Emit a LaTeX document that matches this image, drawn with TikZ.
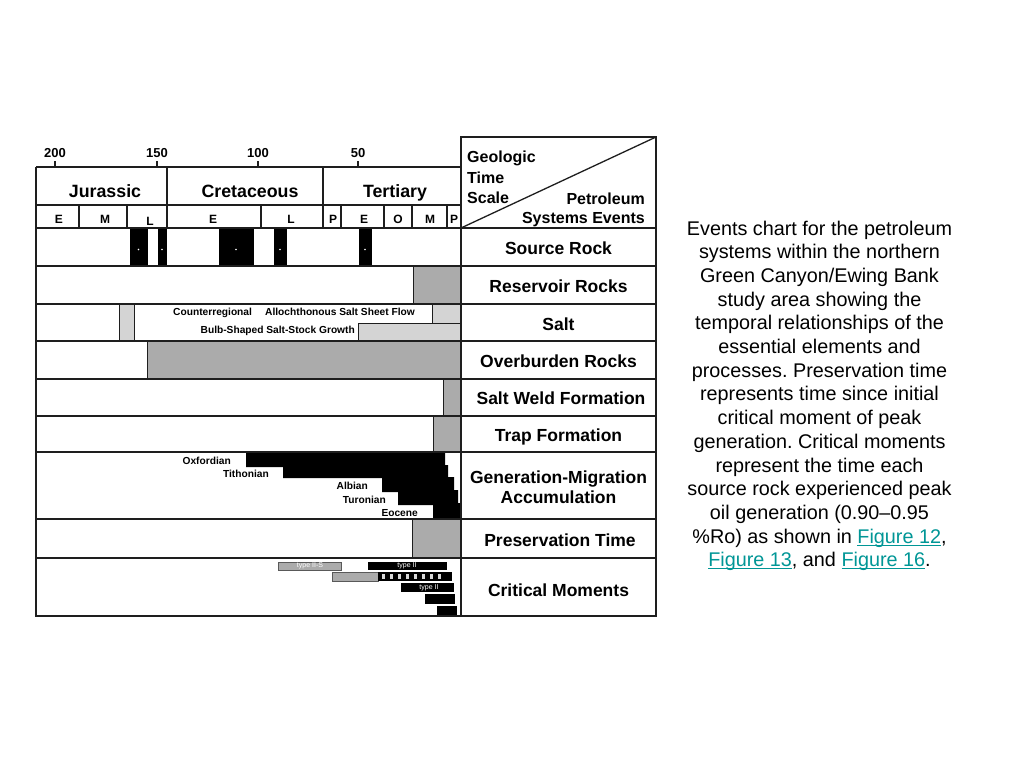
\documentclass[tikz,border=0pt]{standalone}
\usepackage{fontspec}
\setmainfont{Liberation Sans}
\definecolor{gfill}{HTML}{ABABAB}
\definecolor{lfill}{HTML}{D4D4D4}
\definecolor{linec}{HTML}{1E1E1E}
\definecolor{linkc}{RGB}{0,150,150}
\newcommand{\lnk}[1]{{\color{linkc}\setbox0\hbox{#1}\rlap{\rule[-2.6pt]{\wd0}{1pt}}\box0}}
\frenchspacing
\begin{document}
\begin{tikzpicture}[x=1pt,y=-1pt,
  grid/.style={draw=linec,line width=1.5pt},
  frame/.style={draw=linec,line width=2pt},
  dk/.style={fill=black,draw=black,line width=0.6pt},
  gbox/.style={fill=gfill,draw=linec,line width=1pt},
  lbox/.style={fill=lfill,draw=linec,line width=1pt},
  lbl/.style={font=\fontsize{17.5}{20}\selectfont\bfseries,inner sep=0,anchor=base},
  per/.style={font=\fontsize{17.8}{20}\selectfont\bfseries,inner sep=0,anchor=base},
  ep/.style={font=\fontsize{12}{14}\selectfont\bfseries,inner sep=0,anchor=base},
  hd/.style={font=\fontsize{16}{18}\selectfont\bfseries,inner sep=0},
  tk/.style={font=\fontsize{13}{15}\selectfont\bfseries,inner sep=0,anchor=base},
  sm/.style={font=\fontsize{10.2}{12}\selectfont\bfseries,inner sep=0},
  ty/.style={font=\fontsize{7}{8}\selectfont,text=white,inner sep=0},
  captxt/.style={font=\fontsize{19.8}{23.7}\selectfont,inner sep=0,anchor=base}
]
\useasboundingbox[fill=white] (0,0) rectangle (1024,768);

% ---------- fills ----------
% source rock
\foreach \a/\b in {130/147,158/166,219/253,274/286,359/371}{
  \fill[dk] (\a,229) rectangle (\b,265);
  \fill[white] ({(\a+\b)/2},249.5) circle (0.9);
}
% reservoir
\filldraw[gbox] (413,266) rectangle (461,304);
% salt
\filldraw[lbox] (119,304) rectangle (134,341);
\filldraw[lbox] (432,304) rectangle (461,323);
\filldraw[lbox] (358,323) rectangle (461,341);
% overburden
\filldraw[gbox] (147,341) rectangle (461,379);
% salt weld
\filldraw[gbox] (443,379) rectangle (461,416);
% trap
\filldraw[gbox] (433,416) rectangle (461,452);
% generation-migration
\fill[black] (246,452) -- (445,452) -- (445,465) -- (448,465) -- (448,477) -- (454,477) -- (454,490)
  -- (458,490) -- (458,503) -- (461,503) -- (461,519) -- (433,519) -- (433,505) -- (398,505)
  -- (398,492) -- (382,492) -- (382,478) -- (283,478) -- (283,467) -- (246,467) -- cycle;
% preservation
\filldraw[gbox] (412,519) rectangle (461,558);
% critical moments
\filldraw[fill=gfill,draw=gray!70!black,line width=0.8pt] (278,562) rectangle (341,570);
\node[ty] (t1) at (310,566) {type II-S};
\fill[black] (368,562) rectangle (447,570);
\node[ty] (t2) at (407,566) {type II};
\filldraw[fill=gfill,draw=gray!70!black,line width=0.8pt] (332,572) rectangle (378,581);
\fill[black] (378,572) rectangle (452,581);
\foreach \i in {0,...,7}{\fill[white!85!black] ({381.5+8.1*\i},574) rectangle ({384.5+8.1*\i},579);}
\fill[black] (401,583) rectangle (454,592);
\node[ty] (t3) at (429,587.5) {type II};
\fill[black] (425,594) rectangle (455,604);
\fill[black] (437,606) rectangle (457,615);

% ---------- grid ----------
\draw[grid] (36,205) -- (461,205);
\foreach \y in {228,266,304,341,379,416,452,519,558}{\draw[grid] (36,\y) -- (656,\y);}
\draw[grid] (167,167) -- (167,228);
\draw[grid] (323,167) -- (323,228);
\foreach \x in {79,127,261,341,384,412,447}{\draw[grid,line width=1.2pt] (\x,205) -- (\x,228);}
% ticks
\foreach \x in {55,157,258,358}{\draw[grid,line width=1.2pt] (\x,161) -- (\x,167);}
% frame
\draw[frame] (36,167) -- (461,167);
\draw[frame] (36,167) -- (36,616) -- (656,616) -- (656,137) -- (461,137) -- (461,616);
\draw[grid,line width=1.3pt] (461,228) -- (656,137);

% ---------- texts ----------
\node[tk] (n200) at (55,157) {200};
\node[tk] (n150) at (157,157) {150};
\node[tk] (n100) at (258,157) {100};
\node[tk] (n50) at (358,157) {50};
\node[per] (jur) at (105,197) {Jurassic};
\node[per] (cre) at (250,197) {Cretaceous};
\node[per] (ter) at (395,197) {Tertiary};
\node[ep] (e1) at (59,223) {E};
\node[ep] (e2) at (105,223) {M};
\node[ep] (e3) at (150,225) {L};
\node[ep] (e4) at (213,223) {E};
\node[ep] (e5) at (291,223) {L};
\node[ep] (e6) at (333,223) {P};
\node[ep] (e7) at (364,223) {E};
\node[ep] (e8) at (398,223) {O};
\node[ep] (e9) at (430,223) {M};
\node[ep] (e10) at (454,223) {P};

\node[hd,anchor=base west] (h1) at (467,162) {Geologic};
\node[hd,anchor=base west] (h2) at (467,183) {Time};
\node[hd,anchor=base west] (h3) at (467,203) {Scale};
\node[hd,anchor=base east] (h4) at (645,204) {Petroleum};
\node[hd,anchor=base east] (h5) at (645,223) {Systems Events};

\node[lbl] (r1) at (558.5,254) {Source Rock};
\node[lbl] (r2) at (558.5,292) {Reservoir Rocks};
\node[lbl] (r3) at (558.5,330) {Salt};
\node[lbl] (r4) at (558.5,367) {Overburden Rocks};
\node[lbl] (r5) at (561,404) {Salt Weld Formation};
\node[lbl] (r6) at (558.5,441) {Trap Formation};
\node[lbl] (r7) at (558.5,483) {Generation-Migration};
\node[lbl] (r7b) at (558.5,503) {Accumulation};
\node[lbl] (r8) at (560,546) {Preservation Time};
\node[lbl] (r9) at (558.5,596) {Critical Moments};

\node[sm,anchor=base west] (s1) at (173,315) {Counterregional};
\node[sm,anchor=base west] (s2) at (265,315) {Allochthonous Salt Sheet Flow};
\node[sm,anchor=base east] (s3) at (355,333) {Bulb-Shaped Salt-Stock Growth};

\node[sm,anchor=base east] (g1) at (231,464) {Oxfordian};
\node[sm,anchor=base east] (g2) at (269,477) {Tithonian};
\node[sm,anchor=base east] (g3) at (368,489) {Albian};
\node[sm,anchor=base east] (g4) at (386,503) {Turonian};
\node[sm,anchor=base east] (g5) at (418,516) {Eocene};

% ---------- caption ----------
\foreach \t [count=\i] in {
  {Events chart for the petroleum},
  {systems within the northern},
  {Green Canyon/Ewing Bank},
  {study area showing the},
  {temporal relationships of the},
  {essential elements and},
  {processes. Preservation time},
  {represents time since initial},
  {critical moment of peak},
  {generation. Critical moments},
  {represent the time each},
  {source rock experienced peak},
  {oil generation (0.90–0.95},
  {\%Ro) as shown in \lnk{Figure 12},},
  {\lnk{Figure 13}, and \lnk{Figure 16}.}}{
  \node[captxt] (c\i) at (819.5,{235+23.7*(\i-1)}) {\t};
}
\end{tikzpicture}
\end{document}
